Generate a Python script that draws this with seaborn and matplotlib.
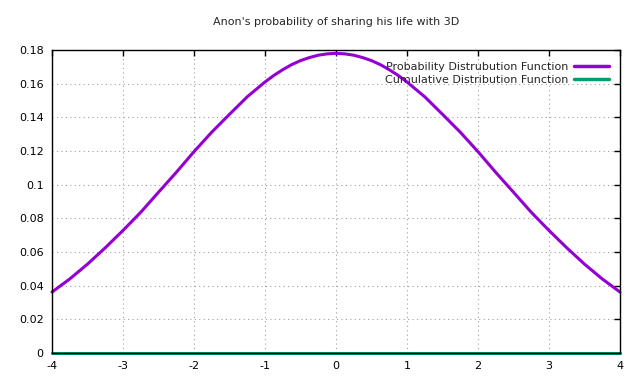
import matplotlib
matplotlib.use("Agg")
import matplotlib.pyplot as plt
import seaborn as sns
import pandas as pd

title = "Anon's probability of sharing his life with 3D"
x_values = [-4.0, -3.75, -3.5, -3.25, -3.0, -2.75, -2.5, -2.25, -2.0, -1.75, -1.5, -1.25, -1.0, -0.875, -0.75,
            -0.625, -0.5, -0.375, -0.25, -0.125, 0.0, 0.125, 0.25, 0.375, 0.5, 0.625, 0.75, 0.875, 1.0,
            1.25, 1.5, 1.75, 2.0, 2.25, 2.5, 2.75, 3.0, 3.25, 3.5, 3.75, 4.0]
pdf_values = [0.0362, 0.0440, 0.0528, 0.0625, 0.0728, 0.0836, 0.0955, 0.1073, 0.1196, 0.1312, 0.1418, 0.1522,
              0.1610, 0.1649, 0.1683, 0.1713, 0.1737, 0.1755, 0.1769, 0.1777, 0.1780, 0.1777, 0.1769, 0.1755,
              0.1737, 0.1713, 0.1683, 0.1649, 0.1610, 0.1522, 0.1418, 0.1312,
              0.1196, 0.1073, 0.0955, 0.0836, 0.0728, 0.0625, 0.0528, 0.0440, 0.0362]
cdf_values = [0.0] * len(x_values)
series_names = ["Probability Distrubution Function", "Cumulative Distribution Function"]
x_ticks = [-4, -3, -2, -1, 0, 1, 2, 3, 4]
y_ticks = [0, 0.02, 0.04, 0.06, 0.08, 0.1, 0.12, 0.14, 0.16, 0.18]
y_tick_labels = ["0", "0.02", "0.04", "0.06", "0.08", "0.1", "0.12", "0.14", "0.16", "0.18"]

df = pd.DataFrame({
    "x": x_values * 2,
    "y": pdf_values + cdf_values,
    "series": [series_names[0]] * len(x_values) + [series_names[1]] * len(x_values),
})

sns.set_style("white")
plt.rcParams["font.family"] = ["DejaVu Sans"]
fig = plt.figure(figsize=(6.4, 3.84), dpi=100)
ax = fig.add_axes([52 / 640, 1 - 353 / 384, 568 / 640, 303 / 384])

sns.lineplot(data=df, x="x", y="y", hue="series", palette=["#9400d3", "#009e73"],
             linewidth=2.2, ax=ax, legend=True, sort=False)
for ln in ax.lines:
    ln.set_clip_on(False)
    ln.set_zorder(1.5)

ax.set_xlim(-4, 4)
ax.set_ylim(0, 0.18)
ax.set_xticks(x_ticks)
ax.set_xticklabels([str(t) for t in x_ticks])
ax.set_yticks(y_ticks)
ax.set_yticklabels(y_tick_labels)
ax.set_xlabel("")
ax.set_ylabel("")
ax.grid(True, color="#a0a0a0", linestyle=(0, (1, 3)), linewidth=0.8)
ax.tick_params(direction="in", length=4, width=1, top=True, right=True,
               labelsize=8, colors="black", pad=6)
for s in ax.spines.values():
    s.set_color("black")
    s.set_linewidth(1)
    s.set_zorder(3)

ax.set_title(title, fontsize=8, pad=18)

leg = ax.legend(loc="upper right", frameon=False, markerfirst=False, fontsize=8,
                handlelength=3.2, borderaxespad=0.3, labelspacing=0.25, handletextpad=0.5,
                bbox_to_anchor=(0.995, 0.985))
for line in leg.get_lines():
    line.set_linewidth(2.5)

fig.savefig("out.png", dpi=100)
